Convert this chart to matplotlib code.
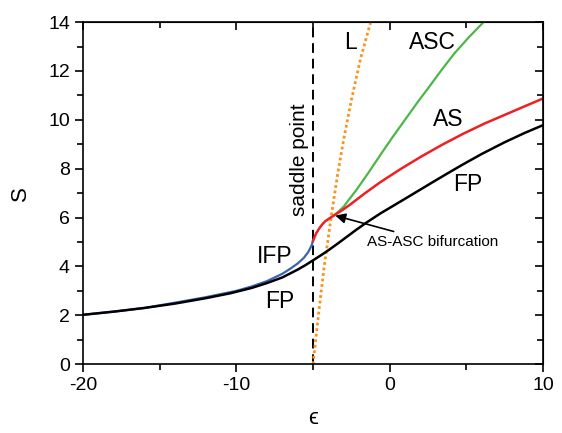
import matplotlib
matplotlib.use("Agg")
import matplotlib.pyplot as plt
from matplotlib.ticker import MultipleLocator, FuncFormatter

plt.rcParams['font.family'] = ['Liberation Sans', 'DejaVu Sans']

# FP branch
fp_eps = [-20, -18, -16, -14, -12, -10.4, -9, -8, -7, -6, -5.5, -5, -4.5, -4, -3.4, -2.8, -2.2,
          -1.5, -0.6, 0.5, 1.3, 2.07, 3, 4, 4.8, 6, 7.5, 8.8, 10]
fp_s = [2.02, 2.15, 2.3, 2.48, 2.7, 2.9, 3.12, 3.32, 3.55, 3.87, 4.05, 4.25, 4.45, 4.66, 4.93, 5.21, 5.49,
        5.8, 6.17, 6.58, 6.88, 7.17, 7.52, 7.89, 8.18, 8.6, 9.08, 9.46, 9.78]

# IFP branch
ifp_eps = [-20, -18, -16, -13.7, -12, -10, -9, -8, -7, -6.5, -6, -5.6, -5.3, -5.1, -5.0]
ifp_s = [2.02, 2.15, 2.3, 2.55, 2.74, 3.0, 3.18, 3.4, 3.7, 3.9, 4.12, 4.35, 4.6, 4.85, 5.05]

# AS branch
as_eps = [-5.0, -4.8, -4.6, -4.4, -4.2, -3.9, -3.6, -3.1, -2.6, -1.6, -0.6, 0.7, 2.07, 3.4,
          4.8, 6.2, 7.5, 8.8, 10]
as_s = [5.05, 5.35, 5.55, 5.72, 5.85, 5.98, 6.1, 6.3, 6.52, 7.0, 7.45, 7.98, 8.5, 8.97,
        9.43, 9.85, 10.2, 10.55, 10.87]

# ASC branch
asc_eps = [-3.6, -3.3, -3.0, -2.6, -2.17, -1.4, -0.62, 0.2, 1.0, 1.8, 2.6, 3.4, 4.24, 5.2, 6.13]
asc_s = [6.1, 6.27, 6.45, 6.78, 7.13, 7.82, 8.55, 9.3, 10.0, 10.7, 11.37, 12.05, 12.73, 13.4, 14.0]

# L line
l_eps = [-5.0, -4.65, -4.28, -3.8, -3.4, -3.0, -2.5, -1.9, -1.24]
l_s = [0.0, 2.0, 3.95, 6.1, 7.75, 9.2, 10.8, 12.5, 14.0]

saddle_eps = -5.0
bif_eps, bif_s = -3.55, 6.08

fig = plt.figure(figsize=(5.62, 4.33), dpi=100)
ax = fig.add_axes([0.148, 0.159, 0.818, 0.79])

ax.plot([saddle_eps, saddle_eps], [0, 14], color='black', lw=1.4, ls=(0, (5, 3)))
ax.plot(l_eps, l_s, color='#f7931e', lw=2, ls=(0, (1, 1)))
ax.plot(ifp_eps, ifp_s, color='#3a62b5', lw=1.6)
ax.plot(fp_eps, fp_s, color='black', lw=1.8)
ax.plot(asc_eps, asc_s, color='#4cb748', lw=1.6)
ax.plot(as_eps, as_s, color='#ee2024', lw=1.8)

fs = 16.5
ax.text(-2.58, 13.18, 'L', fontsize=fs, ha='center', va='center')
ax.text(2.77, 13.18, 'ASC', fontsize=fs, ha='center', va='center')
ax.text(3.8, 10.0, 'AS', fontsize=fs, ha='center', va='center')
ax.text(5.1, 7.35, 'FP', fontsize=fs, ha='center', va='center')
ax.text(-7.5, 4.42, 'IFP', fontsize=fs, ha='center', va='center')
ax.text(-7.2, 2.58, 'FP', fontsize=fs, ha='center', va='center')
ax.text(-5.9, 8.35, 'saddle point', fontsize=15, rotation=90, ha='center', va='center')
ax.annotate('AS-ASC bifurcation', xy=(bif_eps, bif_s), xytext=(-1.5, 5.0),
            fontsize=11, ha='left', va='center',
            arrowprops=dict(arrowstyle='-|>', color='black', lw=1.2,
                            shrinkA=2, shrinkB=0, mutation_scale=15))

ax.set_xlim(-20, 10)
ax.set_ylim(0, 14)
ax.xaxis.set_major_locator(MultipleLocator(10))
ax.xaxis.set_minor_locator(MultipleLocator(5))
ax.yaxis.set_major_locator(MultipleLocator(2))
ax.yaxis.set_minor_locator(MultipleLocator(1))
ax.tick_params(which='both', direction='out', labelsize=14, width=1.2)
ax.tick_params(which='major', length=6)
ax.tick_params(which='minor', length=4)
ax.xaxis.set_major_formatter(FuncFormatter(lambda v, p: '%d' % v))
ax.yaxis.set_major_formatter(FuncFormatter(lambda v, p: '%d' % v))

# inward ticks on the top and right edges
top = ax.secondary_xaxis('top')
top.set_xticks([-20, -10, 0, 10])
top.xaxis.set_minor_locator(MultipleLocator(5))
top.tick_params(which='both', direction='in', labeltop=False, width=1.2)
top.tick_params(which='major', length=6)
top.tick_params(which='minor', length=4)
right = ax.secondary_yaxis('right')
right.yaxis.set_major_locator(MultipleLocator(2))
right.yaxis.set_minor_locator(MultipleLocator(1))
right.tick_params(which='both', direction='in', labelright=False, width=1.2)
right.tick_params(which='major', length=6)
right.tick_params(which='minor', length=4)

for sp in ax.spines.values():
    sp.set_linewidth(1.2)

ax.set_xlabel('ϵ', fontsize=16, labelpad=10)
ax.set_ylabel('S', fontsize=16, labelpad=12)

fig.savefig('out.png', dpi=100)
